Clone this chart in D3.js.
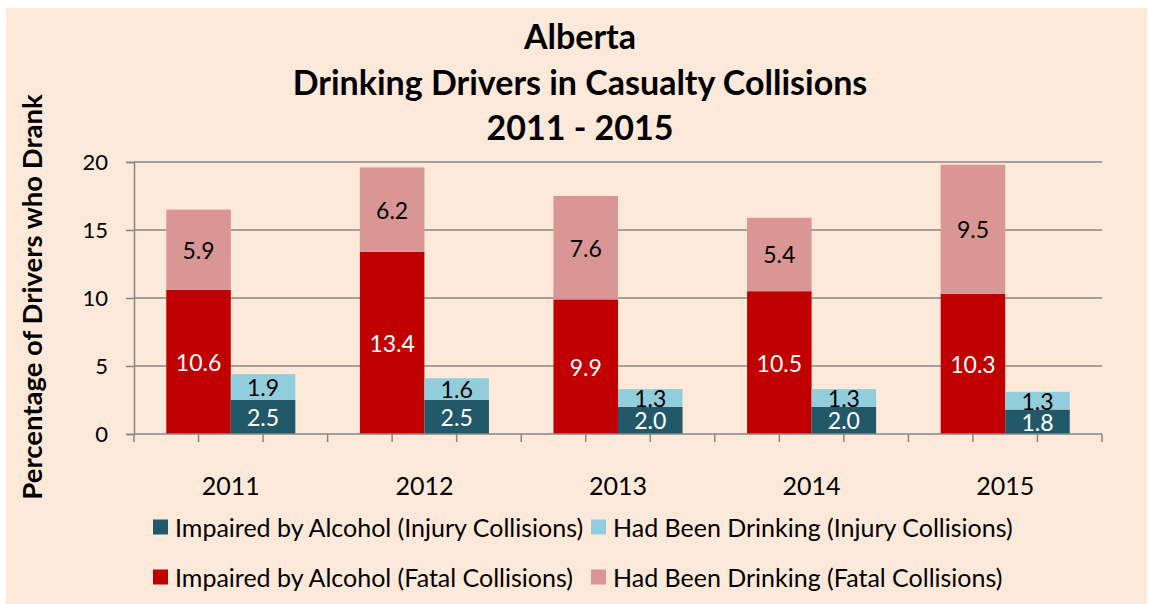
<!DOCTYPE html>
<html>
<head>
<meta charset="utf-8">
<script src="https://cdn.jsdelivr.net/npm/d3@7"></script>
<style>
  body { margin: 0; background: #fff; }
  svg text { font-family: Lato, "Open Sans", sans-serif; fill: #000; }
</style>
</head>
<body>
<svg id="chart" width="1150" height="604"></svg>
<script>
/////////////////////////////////
// DATA
//////////////////////////////////

var years = ["2011", "2012", "2013", "2014", "2015"];

// fatal collisions
var fatalImpaired = [10.6, 13.4, 9.9, 10.5, 10.3];
var fatalDrinking = [5.9, 6.2, 7.6, 5.4, 9.5];

// injury collisions
var injuryImpaired = [2.5, 2.5, 2.0, 2.0, 1.8];
var injuryDrinking = [1.9, 1.6, 1.3, 1.3, 1.3];

var yTicks = [0, 5, 10, 15, 20];

var titleLines = ["Alberta", "Drinking Drivers in Casualty Collisions", "2011 - 2015"];
var legendLabels = [
  "Impaired by Alcohol (Injury Collisions)",
  "Had Been Drinking (Injury Collisions)",
  "Impaired by Alcohol (Fatal Collisions)",
  "Had Been Drinking (Fatal Collisions)"
];

/////////////////////////////////
// SETUP
//////////////////////////////////

var colors = {
  fatalImpaired: "#C00000",
  fatalDrinking: "#DA9694",
  injuryImpaired: "#215968",
  injuryDrinking: "#92CDDC"
};
var gridColor = "#878787";

var plot = {left: 134, right: 1102, top: 162, bottom: 434};

var svg = d3.select("#chart");

// peach background
svg.append("rect")
  .attr("x", 6).attr("y", 8)
  .attr("width", 1141).attr("height", 600)
  .attr("fill", "#FDE9D9");

var x = d3.scaleBand()
  .domain(years)
  .range([plot.left, plot.right]);

var y = d3.scaleLinear()
  .domain([0, 20])
  .range([plot.bottom, plot.top]);

var bw = x.bandwidth() / 3;

// gridlines
svg.selectAll(".grid")
  .data(yTicks.filter(function(d) { return d > 0; }))
  .enter().append("line")
    .attr("x1", plot.left).attr("x2", plot.right)
    .attr("y1", function(d) { return y(d); })
    .attr("y2", function(d) { return y(d); })
    .attr("stroke", gridColor)
    .attr("stroke-width", 1.5);

// y axis
var yAxis = svg.append("g")
  .attr("transform", "translate(" + plot.left + ",0)")
  .call(d3.axisLeft(y).tickValues(yTicks).tickSize(8).tickPadding(18));
yAxis.select(".domain").attr("stroke", gridColor).attr("stroke-width", 1.5);
yAxis.selectAll(".tick line").attr("stroke", gridColor).attr("stroke-width", 1.5);
yAxis.selectAll(".tick text")
  .attr("font-size", 22).attr("font-family", "Lato").attr("fill", "#000");

/////////////////////////////////
// BARS
//////////////////////////////////

var rows = years.map(function(yr, i) {
  return {
    year: yr,
    fatal: [
      {key: "fatalImpaired", y0: 0, y1: fatalImpaired[i], val: fatalImpaired[i], txt: "#fff"},
      {key: "fatalDrinking", y0: fatalImpaired[i], y1: fatalImpaired[i] + fatalDrinking[i], val: fatalDrinking[i], txt: "#000"}
    ],
    injury: [
      {key: "injuryImpaired", y0: 0, y1: injuryImpaired[i], val: injuryImpaired[i], txt: "#fff"},
      {key: "injuryDrinking", y0: injuryImpaired[i], y1: injuryImpaired[i] + injuryDrinking[i], val: injuryDrinking[i], txt: "#000"}
    ]
  };
});

var segs = [];
rows.forEach(function(r) {
  r.fatal.forEach(function(s) { segs.push(Object.assign({x0: x(r.year) + bw / 2}, s)); });
  r.injury.forEach(function(s) { segs.push(Object.assign({x0: x(r.year) + bw * 1.5}, s)); });
});

svg.selectAll(".seg")
  .data(segs)
  .enter().append("rect")
    .attr("class", "seg")
    .attr("x", function(d) { return d.x0; })
    .attr("y", function(d) { return y(d.y1); })
    .attr("width", bw)
    .attr("height", function(d) { return y(d.y0) - y(d.y1); })
    .attr("fill", function(d) { return colors[d.key]; });

svg.selectAll(".segLabel")
  .data(segs)
  .enter().append("text")
    .attr("x", function(d) { return d.x0 + bw / 2; })
    .attr("y", function(d) { return (y(d.y0) + y(d.y1)) / 2; })
    .attr("text-anchor", "middle")
    .attr("dominant-baseline", "central")
    .attr("font-size", 23)
    .style("fill", function(d) { return d.txt; })
    .text(function(d) { return d.val.toFixed(1); });

// x axis (drawn on top of bars)
svg.append("line")
  .attr("x1", plot.left).attr("x2", plot.right)
  .attr("y1", plot.bottom).attr("y2", plot.bottom)
  .attr("stroke", gridColor).attr("stroke-width", 1.5);

svg.selectAll(".xtick")
  .data(d3.range(years.length * 3 + 1))
  .enter().append("line")
    .attr("x1", function(d) { return plot.left + d * bw; })
    .attr("x2", function(d) { return plot.left + d * bw; })
    .attr("y1", plot.bottom).attr("y2", plot.bottom + 8)
    .attr("stroke", gridColor).attr("stroke-width", 1.5);

svg.selectAll(".yearLabel")
  .data(years)
  .enter().append("text")
    .attr("x", function(d) { return x(d) + x.bandwidth() / 2; })
    .attr("y", 495)
    .attr("text-anchor", "middle")
    .attr("font-size", 25)
    .text(function(d) { return d; });

/////////////////////////////////
// TITLES
//////////////////////////////////

svg.selectAll(".title")
  .data(titleLines)
  .enter().append("text")
    .attr("x", 580)
    .attr("y", function(d, i) { return 49 + i * 45.5; })
    .attr("text-anchor", "middle")
    .attr("font-size", 34)
    .attr("font-weight", "bold")
    .text(function(d) { return d; });

svg.append("text")
  .attr("transform", "translate(42,297) rotate(-90)")
  .attr("text-anchor", "middle")
  .attr("font-size", 27.5)
  .attr("font-weight", "bold")
  .text("Percentage of Drivers who Drank");

/////////////////////////////////
// LEGEND
//////////////////////////////////

var legendKeys = ["injuryImpaired", "injuryDrinking", "fatalImpaired", "fatalDrinking"];
var legendX = [153, 591];
var legendY = [527, 577];

var legend = svg.selectAll(".legendItem")
  .data(legendKeys)
  .enter().append("g")
    .attr("transform", function(d, i) {
      return "translate(" + legendX[i % 2] + "," + legendY[Math.floor(i / 2)] + ")";
    });

legend.append("rect")
  .attr("x", 0).attr("y", -7.5)
  .attr("width", 15).attr("height", 15)
  .attr("fill", function(d) { return colors[d]; });

legend.append("text")
  .attr("x", 22)
  .attr("y", 0)
  .attr("dominant-baseline", "central")
  .attr("font-size", 25)
  .text(function(d, i) { return legendLabels[i]; });
</script>
</body>
</html>
